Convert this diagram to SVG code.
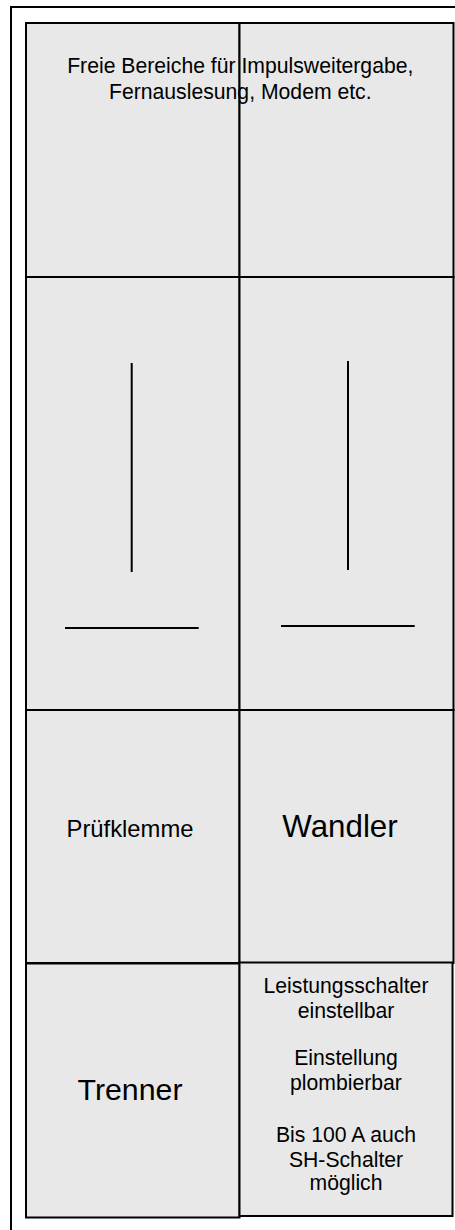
<svg xmlns="http://www.w3.org/2000/svg" width="455" height="1230" viewBox="0 0 455 1230">
<style>
.cell{fill:#e8e8e8;stroke:#000;stroke-width:2}
.ln{stroke:#000;stroke-width:2;fill:none}
text{font-family:"Liberation Sans",Arial,sans-serif;fill:#000;text-anchor:middle}
</style>
<rect x="11" y="7" width="460" height="1240" fill="#fff" stroke="#000" stroke-width="2"/>
<g id="cell-top-left"><rect class="cell" x="26" y="23" width="213.5" height="254"/></g>
<g id="cell-top-right"><rect class="cell" x="239.5" y="23" width="214" height="254"/></g>
<g id="cell-mid-left"><rect class="cell" x="26" y="277" width="213.5" height="433"/>
<line class="ln" x1="131.7" y1="363" x2="131.7" y2="572"/>
<line class="ln" x1="65" y1="628" x2="198.7" y2="628"/></g>
<g id="cell-mid-right"><rect class="cell" x="239.5" y="277" width="214" height="433"/>
<line class="ln" x1="348" y1="361" x2="348" y2="570"/>
<line class="ln" x1="281" y1="626" x2="414.7" y2="626"/></g>
<g id="pruefklemme"><rect class="cell" x="26" y="710" width="213.5" height="253"/>
<text x="130" y="836.7" font-size="23.8">Prüfklemme</text></g>
<g id="wandler"><rect class="cell" x="239.5" y="710" width="214" height="253"/>
<text x="340" y="836.7" font-size="31.3">Wandler</text></g>
<g id="trenner"><rect class="cell" x="26" y="963.5" width="213.5" height="254"/>
<text x="130" y="1100" font-size="30.3">Trenner</text></g>
<g id="leistungsschalter"><rect class="cell" x="239.5" y="962.5" width="213" height="253.5"/>
<text font-size="21.2"><tspan x="346" y="993.3">Leistungsschalter</tspan><tspan x="346" y="1018.3">einstellbar</tspan><tspan x="346" y="1065">Einstellung</tspan><tspan x="346" y="1090">plombierbar</tspan><tspan x="346" y="1141.7">Bis 100 A auch</tspan><tspan x="346" y="1166.7">SH-Schalter</tspan><tspan x="346" y="1190">möglich</tspan></text></g>
<g id="freie-bereiche"><text font-size="21.2"><tspan x="240.3" y="73.3">Freie Bereiche für Impulsweitergabe,</tspan><tspan x="240.3" y="99">Fernauslesung, Modem etc.</tspan></text></g>
<g id="connectors"></g>
</svg>
